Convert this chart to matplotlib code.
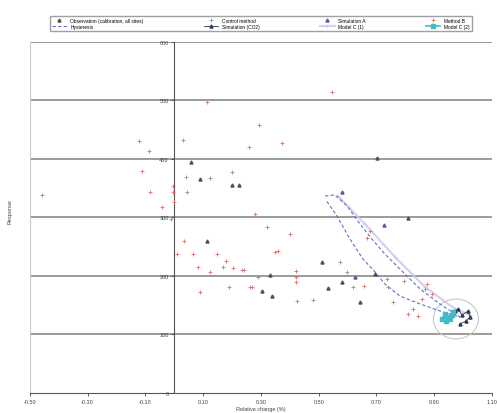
import matplotlib
matplotlib.use('Agg')
import matplotlib.pyplot as plt
from matplotlib.patches import Ellipse

plt.rcParams['font.family'] = ['Liberation Sans', 'DejaVu Sans']

# x tick positions / labels
x_ticks = [-0.50, -0.30, -0.10, 0.10, 0.30, 0.50, 0.70, 0.90, 1.10]
y_ticks = [0, 100, 200, 300, 400, 500, 600]

# Observation (calibration) - black triangles
obs_x = [0.089, 0.113, 0.511, 0.532, 0.580, 0.643, 0.809, 0.702, 0.338, 0.303,
         0.331, 0.058, 0.200, 0.224, 0.695]
obs_y = [365.8, 259.8, 223.9, 179.5, 189.7, 155.6, 299.1, 401.7, 165.8, 174.4,
         201.7, 394.9, 355.6, 355.6, 203.4]

# Control method - gray plus
ctrl_x = [-0.458, 0.030, 0.040, 0.044, 0.123, 0.200, 0.574, 0.598, 0.480, 0.757,
          0.290, 0.241]
ctrl_y = [338.5, 432.5, 369.2, 343.6, 367.5, 377.8, 223.9, 206.8, 159.0, 155.6,
          198.3, 210.3]

# Simulation A - dark triangles
simA_x = [0.580, 0.726, 0.625]
simA_y = [343.6, 287.2, 198.3]

# Method B - red plus
methB_x = [-0.122, -0.088, -0.112, -0.084, -0.043, -0.005, -0.005, -0.001, -0.012,
           0.033, 0.009, 0.064, 0.148, 0.179, 0.082, 0.123, 0.168, 0.203, 0.234,
           0.089, 0.189, 0.262, 0.279, 0.321, 0.400, 0.348, 0.359, 0.421, 0.421,
           0.421, 0.269, 0.425, 0.619, 0.657, 0.736, 0.740, 0.795, 0.826, 0.844,
           0.809, 0.677, 0.667, 0.868, 0.875, 0.892, 0.858, 0.113, 0.257, 0.293,
           0.373, 0.545]
methB_y = [430.8, 413.7, 379.5, 343.6, 318.0, 353.9, 343.6, 326.5, 297.4,
           259.8, 237.6, 237.6, 237.6, 225.6, 215.4, 206.8, 215.4, 213.7, 210.3,
           172.6, 181.2, 181.2, 306.0, 283.8, 271.8, 241.0, 242.7, 208.5, 198.3,
           189.7, 181.2, 157.3, 181.2, 182.9, 194.9, 181.2, 191.5, 143.6, 131.6,
           135.0, 276.9, 265.0, 177.8, 186.3, 169.2, 160.7, 497.0, 421.0, 458.0,
           427.0, 514.0]

# Hysteresis loop - blue dashed
hyst_x = [0.522, 0.556, 0.598, 0.643, 0.684, 0.729, 0.781, 0.851, 0.920, 0.989,
          0.920, 0.851, 0.781, 0.729, 0.695, 0.653, 0.608, 0.563, 0.525]
hyst_y = [336.8, 338.5, 319.7, 288.9, 263.3, 237.6, 212.0, 177.8, 152.1, 129.9,
          140.2, 152.1, 165.8, 186.3, 206.8, 229.0, 263.3, 302.6, 329.9]

# Simulation (CO2) - black line with triangles
co2_x = [0.972, 0.982, 0.996, 1.017, 1.024, 1.010, 0.989]
co2_y = [140.2, 143.6, 133.3, 140.2, 129.9, 123.1, 117.9]

# Model C (1) - light purple line
mc1_x = [0.567, 0.660, 0.764, 0.868, 0.972, 1.024]
mc1_y = [336.8, 288.9, 232.5, 181.2, 143.6, 133.3]

# Model C (2) - cyan
mc2_x = [0.927, 0.937, 0.941, 0.948, 0.955, 0.961, 0.965]
mc2_y = [126.5, 135.0, 123.1, 129.9, 126.5, 133.3, 138.5]

fig = plt.figure(figsize=(4.97, 4.14), dpi=100)
ax = fig.add_axes([0.060, 0.0483, 0.930, 0.848])

for yv in y_ticks[1:]:
    ax.axhline(yv, color='#8a8a8a', lw=1.2, zorder=1)
ax.axvline(-0.5, color='#c8c8c8', lw=0.8, zorder=1)

h_obs, = ax.plot(obs_x, obs_y, ls='none', marker='^', ms=2.2, color='#505050', zorder=4)
h_ctrl, = ax.plot(ctrl_x, ctrl_y, ls='none', marker='+', ms=3.5, mew=0.6, color='#909090', zorder=4)
h_simA, = ax.plot(simA_x, simA_y, ls='none', marker='^', ms=2.2, color='#5a5a9a', zorder=4)
h_methB, = ax.plot(methB_x, methB_y, ls='none', marker='+', ms=3.5, mew=0.6, color='#e86a6a', zorder=4)
h_hyst, = ax.plot(hyst_x, hyst_y, ls=(0, (3, 2)), lw=0.8, color='#6070d0', zorder=3)
h_co2, = ax.plot(co2_x, co2_y, ls='-', lw=0.6, marker='^', ms=2.2, color='#2a3a5a', zorder=5)
h_mc1, = ax.plot(mc1_x, mc1_y, ls='-', lw=1.6, color='#cdc6ea', alpha=0.8, marker='+', ms=3, mew=0.5, zorder=2)
h_mc2, = ax.plot(mc2_x, mc2_y, ls='-', lw=1.2, marker='s', ms=2.6, color='#40bcc8', zorder=5)

ax.add_patch(Ellipse((0.975, 126.5), 0.156, 68, fill=False, ec='#c8c8c8', lw=0.8, zorder=2))

ax.set_xlim(-0.5, 1.1)
ax.set_ylim(0, 600)
ax.set_xticks(x_ticks)
ax.set_xticklabels([f'{v:.2f}' for v in x_ticks])
ax.set_yticks(y_ticks)
ax.set_yticklabels([str(v) for v in y_ticks])
ax.spines['left'].set_position(('data', 0))
ax.spines['left'].set_color('#555555')
ax.spines['bottom'].set_color('#555555')
ax.spines['top'].set_visible(False)
ax.spines['right'].set_visible(False)
ax.tick_params(axis='both', labelsize=4, colors='#444444', length=2, width=0.6, pad=2)

ax.set_xlabel('Relative change (%)', fontsize=4, color='#444444', labelpad=2)
fig.text(0.02, 0.49, 'Response', rotation=90, fontsize=4, color='#444444', ha='center', va='center')

handles = [h_obs, h_hyst, h_ctrl, h_co2, h_simA, h_mc1, h_methB, h_mc2]
labels = ['Observation (calibration, all sites)', 'Hysteresis',
          'Control method', 'Simulation (CO2)',
          'Simulation A', 'Model C (1)',
          'Method B', 'Model C (2)']
fig.legend(handles, labels, ncol=4, mode='expand', loc='lower left',
           bbox_to_anchor=(0.1006, 0.9227, 0.849, 0.0459), fontsize=3.5,
           frameon=True, fancybox=False, edgecolor='#888888', borderaxespad=0,
           handlelength=3, labelspacing=0.3, borderpad=0.4)

plt.savefig('out.png', dpi=100)
plt.close()
